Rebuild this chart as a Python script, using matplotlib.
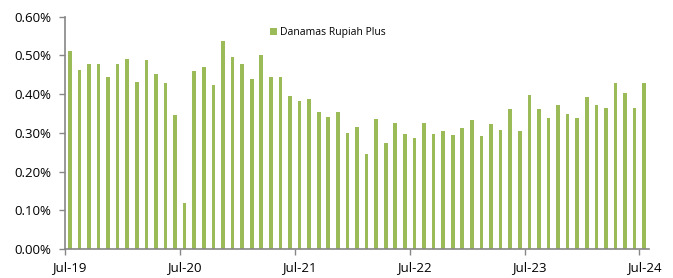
import matplotlib
matplotlib.use("Agg")
import matplotlib.pyplot as plt
from matplotlib.ticker import FuncFormatter, FixedLocator

plt.rcParams['font.family'] = ['Open Sans', 'DejaVu Sans']

series_name = "Danamas Rupiah Plus"
tick_labels = ["Jul-19", "Jul-20", "Jul-21", "Jul-22", "Jul-23", "Jul-24"]
# monthly returns (%), Jul-19 .. Jul-24
values = [
    0.511, 0.462, 0.479, 0.479, 0.445, 0.478, 0.492, 0.431, 0.487, 0.453, 0.430, 0.347,
    0.118, 0.461, 0.469, 0.423, 0.538, 0.497, 0.479, 0.439, 0.500, 0.444, 0.445, 0.395,
    0.383, 0.387, 0.353, 0.341, 0.355, 0.299, 0.315, 0.246, 0.336, 0.275, 0.325, 0.297,
    0.287, 0.326, 0.296, 0.306, 0.295, 0.312, 0.333, 0.292, 0.323, 0.307, 0.361, 0.306,
    0.397, 0.361, 0.338, 0.373, 0.349, 0.338, 0.392, 0.373, 0.363, 0.429, 0.403, 0.364,
    0.429,
]

color = "#9BBB59"
axis_color = "#868686"

fig = plt.figure(figsize=(6.73, 2.78), dpi=100)
ax = fig.add_axes([65/673, 1 - 249/278, (649 - 65)/673, (249 - 16.7)/278])

x = list(range(len(values)))
ax.bar(x, values, width=0.38, color=color, label=series_name, zorder=2)

ax.set_xlim(-0.5, len(values) - 0.5)
ax.set_ylim(0, 0.60)
ax.set_yticks([0.0, 0.1, 0.2, 0.3, 0.4, 0.5, 0.6])
ax.yaxis.set_major_formatter(FuncFormatter(lambda v, p: f"{v:.2f}%"))

# tick marks at category boundaries, labels at category centres
ax.xaxis.set_major_locator(FixedLocator([-0.5 + 12 * k for k in range(len(tick_labels))]))
ax.xaxis.set_major_formatter(FuncFormatter(lambda v, p: ""))
ax.xaxis.set_minor_locator(FixedLocator([12 * k for k in range(len(tick_labels))]))
ax.set_xticklabels(tick_labels, minor=True)
ax.tick_params(axis='x', which='minor', length=0, pad=9, labelsize=9.5, colors='black')
ax.tick_params(axis='x', which='major', length=4, width=1, color=axis_color, direction='out')
ax.tick_params(axis='y', length=4, width=1, color=axis_color, direction='out', labelsize=9.5, pad=6)

for s in ['top', 'right']:
    ax.spines[s].set_visible(False)
for s in ['left', 'bottom']:
    ax.spines[s].set_color(axis_color)
    ax.spines[s].set_linewidth(1.2)

leg = ax.legend(loc='upper center', bbox_to_anchor=(0.45, 0.995), frameon=False,
                fontsize=7.5, handlelength=0.7, handleheight=0.7, handletextpad=0.3)

fig.savefig("out.png", dpi=100)
